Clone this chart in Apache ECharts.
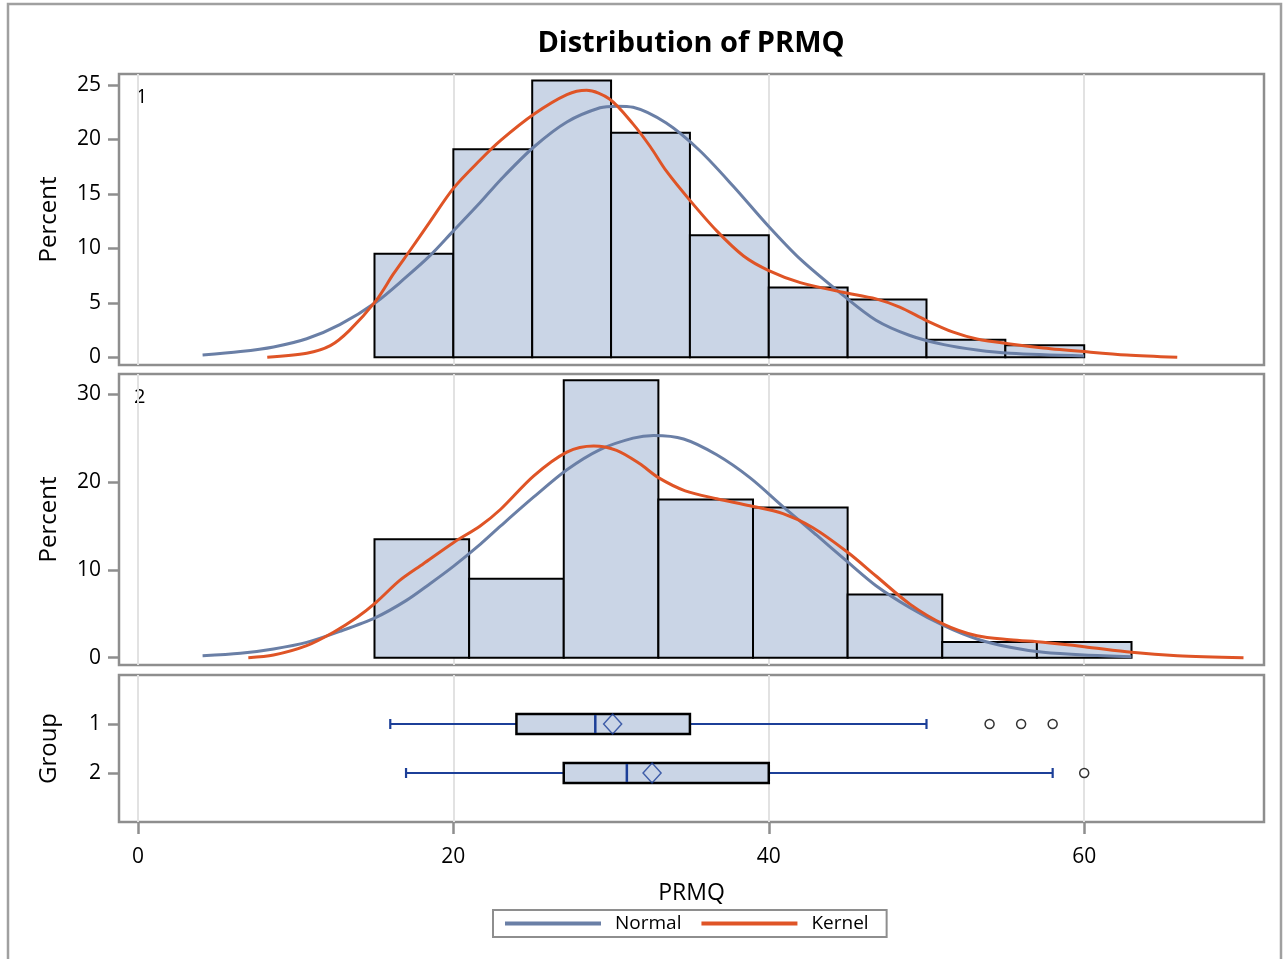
<!DOCTYPE html>
<html><head><meta charset="utf-8">
<script src="https://cdn.jsdelivr.net/npm/echarts@6/dist/echarts.min.js"></script>
<style>html,body{margin:0;padding:0;background:#fff}#c{width:1285px;height:959px}</style>
</head><body><div id="c"></div>
<script>
const chartTitle = 'Distribution of PRMQ';
const xName = 'PRMQ';
const xTicks = [0, 20, 40, 60];
const y1Ticks = [0, 5, 10, 15, 20, 25];
const y2Ticks = [0, 10, 20, 30];
const groupTicks = [1, 2];

const binEdges1 = [15, 20, 25, 30, 35, 40, 45, 50, 55, 60];
const pct1 = [9.5, 19.1, 25.4, 20.6, 11.2, 6.4, 5.3, 1.6, 1.1];
const binEdges2 = [15, 21, 27, 33, 39, 45, 51, 57, 63];
const pct2 = [13.5, 9.0, 31.6, 18.0, 17.1, 7.2, 1.8, 1.8];

const normal1 = [[4.1,0.21],[6.5,0.52],[8.6,0.95],[10.7,1.7],[12.8,3.0],[15.1,5.05],[17.0,7.35],[18.5,9.3],[20,11.6],[21.7,14.2],[23.0,16.3],[25.1,19.3],[27.2,21.6],[29.3,22.9],[30.35,23.05],[31.4,22.95],[33.5,21.5],[35.6,19.0],[37.75,15.7],[40,12.0],[42.0,9.0],[44.7,5.7],[46.8,3.4],[48.95,2.0],[51.1,1.16],[53.2,0.67],[55.3,0.37],[60,0.12]];
const kernel1 = [[8.2,0],[10.7,0.37],[12.2,1.07],[13.4,2.45],[15.1,5.2],[16.2,7.65],[17.25,9.8],[18.5,12.4],[20,15.5],[21.7,18.1],[23.0,19.9],[25.1,22.3],[27.2,24.1],[28.45,24.5],[29.9,23.7],[31.4,21.4],[32.5,19.3],[33.5,17.1],[35.0,14.4],[36.7,11.6],[38.4,9.3],[40,7.96],[42.0,6.85],[44.7,5.97],[46.8,5.36],[48.3,4.6],[50,3.37],[51.7,2.3],[53.2,1.68],[55.3,1.22],[57.4,0.86],[60,0.52],[62.7,0.21],[65.9,0]];
const normal2 = [[4.1,0.23],[6.5,0.5],[8.6,1.0],[10.7,1.75],[12.8,3.0],[15.1,4.6],[17.0,6.5],[18.5,8.4],[20,10.4],[21.7,12.9],[23.0,15.0],[25.1,18.3],[27.2,21.4],[29.3,23.7],[31.4,25.0],[32.7,25.3],[34.6,24.9],[36.7,23.1],[38.8,20.5],[40.9,17.2],[43.0,14.0],[45.0,10.9],[46.8,8.2],[48.95,5.7],[51.1,3.65],[53.2,2.13],[55.3,1.18],[57.4,0.61],[60,0.3],[63,0.12]];
const kernel2 = [[7.0,0],[8.6,0.3],[10.7,1.37],[12.4,2.9],[13.9,4.6],[15.1,6.3],[16.6,8.8],[18.1,10.7],[20,13.1],[21.7,15.0],[23.0,16.9],[25.1,20.7],[27.2,23.4],[28.9,24.1],[30.35,23.6],[31.8,22.1],[33.0,20.5],[34.7,19.0],[36.7,18.1],[38.8,17.3],[40.9,16.4],[42.8,14.8],[45.0,12.0],[46.8,9.3],[48.95,6.1],[51.1,3.8],[53.2,2.5],[55.3,2.05],[57.4,1.75],[60,1.26],[63,0.61],[65.9,0.23],[70.1,0]];

const boxGroups = [1, 2];
const whiskerLow = [16, 17];
const q1 = [24, 27];
const median = [29, 31];
const q3 = [35, 40];
const whiskerHigh = [50, 58];
const means = [30.1, 32.6];
const outlierX = [54, 56, 58, 60];
const outlierGroup = [1, 1, 1, 2];

const FONT = '"Open Sans", "Noto Sans", sans-serif';
const FRAME = '#8e8e8e';
const FILL = '#cad5e6';
const BLUE = '#6a7fa6';
const RED = '#df5426';
const NAVY = '#1c3f98';

const chart = echarts.init(document.getElementById('c'), null, {renderer: 'canvas'});

const gridBase = {left: 119, width: 1145, show: true, borderColor: FRAME, borderWidth: 2.5, backgroundColor: 'transparent'};
const grids = [
  Object.assign({top: 74, height: 291}, gridBase),
  Object.assign({top: 374, height: 291}, gridBase),
  Object.assign({top: 675, height: 147}, gridBase)
];

function xAxisFor(i, showLabels) {
  return {
    type: 'value', gridIndex: i, min: -1.2, max: 71.4, position: 'bottom',
    axisLine: {show: false, onZero: false},
    axisTick: {show: showLabels, customValues: xTicks, length: 12, lineStyle: {color: FRAME, width: 2.5}},
    axisLabel: {show: showLabels, customValues: xTicks, fontSize: 21, fontFamily: FONT, color: '#000', margin: 25},
    splitLine: {show: true, lineStyle: {color: '#e2e2e2', width: 2}},
    name: showLabels ? xName : '', nameLocation: 'middle', nameGap: 60,
    nameTextStyle: {fontSize: 23, fontFamily: FONT, color: '#000'}
  };
}
function yAxisFor(i, min, max, ticks, name, inverse) {
  return {
    type: 'value', gridIndex: i, min: min, max: max, inverse: !!inverse, position: 'left',
    axisLine: {show: false, onZero: false},
    axisTick: {show: true, customValues: ticks, length: 11, lineStyle: {color: FRAME, width: 2.5}},
    axisLabel: {show: true, customValues: ticks, fontSize: 21, fontFamily: FONT, color: '#000', margin: 18},
    splitLine: {show: false},
    name: name, nameLocation: 'middle', nameGap: 58, nameRotate: 90,
    nameTextStyle: {fontSize: 24, fontFamily: FONT, color: '#000'}
  };
}

function histItem(params, api) {
  const x0 = api.value(0), x1 = api.value(1), h = api.value(2);
  const p0 = api.coord([x0, h]);
  const p1 = api.coord([x1, 0]);
  return {type: 'rect', shape: {x: p0[0], y: p0[1], width: p1[0] - p0[0], height: p1[1] - p0[1]},
    style: {fill: FILL, stroke: '#000', lineWidth: 2}};
}
function boxItem(params, api) {
  const g = api.value(0);
  const pLo = api.coord([api.value(1), g]);
  const pA = api.coord([api.value(2), g]);
  const pM = api.coord([api.value(3), g]);
  const pB = api.coord([api.value(4), g]);
  const pHi = api.coord([api.value(5), g]);
  const y = pA[1], hh = 10, cap = 5;
  const ls = {stroke: NAVY, lineWidth: 2.2};
  return {type: 'group', children: [
    {type: 'line', shape: {x1: pLo[0], y1: y, x2: pA[0], y2: y}, style: ls},
    {type: 'line', shape: {x1: pB[0], y1: y, x2: pHi[0], y2: y}, style: ls},
    {type: 'line', shape: {x1: pLo[0], y1: y - cap, x2: pLo[0], y2: y + cap}, style: ls},
    {type: 'line', shape: {x1: pHi[0], y1: y - cap, x2: pHi[0], y2: y + cap}, style: ls},
    {type: 'rect', shape: {x: pA[0], y: y - hh, width: pB[0] - pA[0], height: 2 * hh}, style: {fill: FILL, stroke: '#000', lineWidth: 2.5}},
    {type: 'line', shape: {x1: pM[0], y1: y - hh + 1, x2: pM[0], y2: y + hh - 1}, style: {stroke: NAVY, lineWidth: 2.5}}
  ]};
}

const histData1 = pct1.map((v, i) => [binEdges1[i], binEdges1[i + 1], v]);
const histData2 = pct2.map((v, i) => [binEdges2[i], binEdges2[i + 1], v]);
const boxData = boxGroups.map((g, i) => [g, whiskerLow[i], q1[i], median[i], q3[i], whiskerHigh[i]]);
const meanData = boxGroups.map((g, i) => [means[i], g]);
const outlierData = outlierX.map((x, i) => [x, outlierGroup[i]]);

function curve(name, data, color, idx) {
  return {type: 'line', name: name, xAxisIndex: idx, yAxisIndex: idx, data: data, smooth: 0.3,
    showSymbol: false, symbol: 'none', lineStyle: {color: color, width: 3}, itemStyle: {color: color}, z: 5, silent: true};
}

const option = {
  animation: false,
  backgroundColor: '#fff',
  grid: grids,
  xAxis: [xAxisFor(0, false), xAxisFor(1, false), xAxisFor(2, true)],
  yAxis: [
    yAxisFor(0, -0.71, 26.0, y1Ticks, 'Percent'),
    yAxisFor(1, -0.83, 32.3, y2Ticks, 'Percent'),
    yAxisFor(2, 0, 3, groupTicks, 'Group', true)
  ],
  legend: {
    data: ['Normal', 'Kernel'], left: 493, top: 910,
    icon: 'rect', itemWidth: 96, itemHeight: 4, itemGap: 20,
    padding: [4, 18, 4, 12],
    borderColor: FRAME, borderWidth: 2,
    textStyle: {fontSize: 19, fontFamily: FONT, color: '#000', padding: [0, 0, 0, 9]}
  },
  graphic: [
    {type: 'rect', shape: {x: 8, y: 4, width: 1273, height: 1000}, style: {fill: 'none', stroke: '#a0a0a0', lineWidth: 2.5}, silent: true},
    {type: 'text', x: 691, y: 44, style: {text: chartTitle, font: 'bold 29px ' + FONT, fill: '#000', textAlign: 'center', textVerticalAlign: 'middle'}},
    {type: 'text', x: 136, y: 97, style: {text: '1', font: '20px ' + FONT, fill: '#000', textAlign: 'left', textVerticalAlign: 'middle'}},
    {type: 'text', x: 134, y: 397, style: {text: '2', font: '20px ' + FONT, fill: '#000', textAlign: 'left', textVerticalAlign: 'middle'}}
  ],
  series: [
    {type: 'custom', xAxisIndex: 0, yAxisIndex: 0, data: histData1, renderItem: histItem, encode: {x: [0, 1], y: 2}, z: 2, silent: true},
    {type: 'custom', xAxisIndex: 1, yAxisIndex: 1, data: histData2, renderItem: histItem, encode: {x: [0, 1], y: 2}, z: 2, silent: true},
    curve('Normal', normal1, BLUE, 0),
    curve('Kernel', kernel1, RED, 0),
    curve('Normal', normal2, BLUE, 1),
    curve('Kernel', kernel2, RED, 1),
    {type: 'custom', xAxisIndex: 2, yAxisIndex: 2, data: boxData, renderItem: boxItem, encode: {x: [1, 2, 3, 4, 5], y: 0}, z: 3, silent: true},
    {type: 'scatter', xAxisIndex: 2, yAxisIndex: 2, data: meanData, symbol: 'diamond', symbolSize: [18, 20],
      itemStyle: {color: 'rgba(0,0,0,0)', borderColor: NAVY, borderWidth: 1.5}, z: 6, silent: true},
    {type: 'scatter', xAxisIndex: 2, yAxisIndex: 2, data: outlierData, symbol: 'circle', symbolSize: 9,
      itemStyle: {color: '#fff', borderColor: '#000', borderWidth: 1.5}, z: 6, silent: true}
  ]
};
chart.setOption(option);
</script>
</body></html>
